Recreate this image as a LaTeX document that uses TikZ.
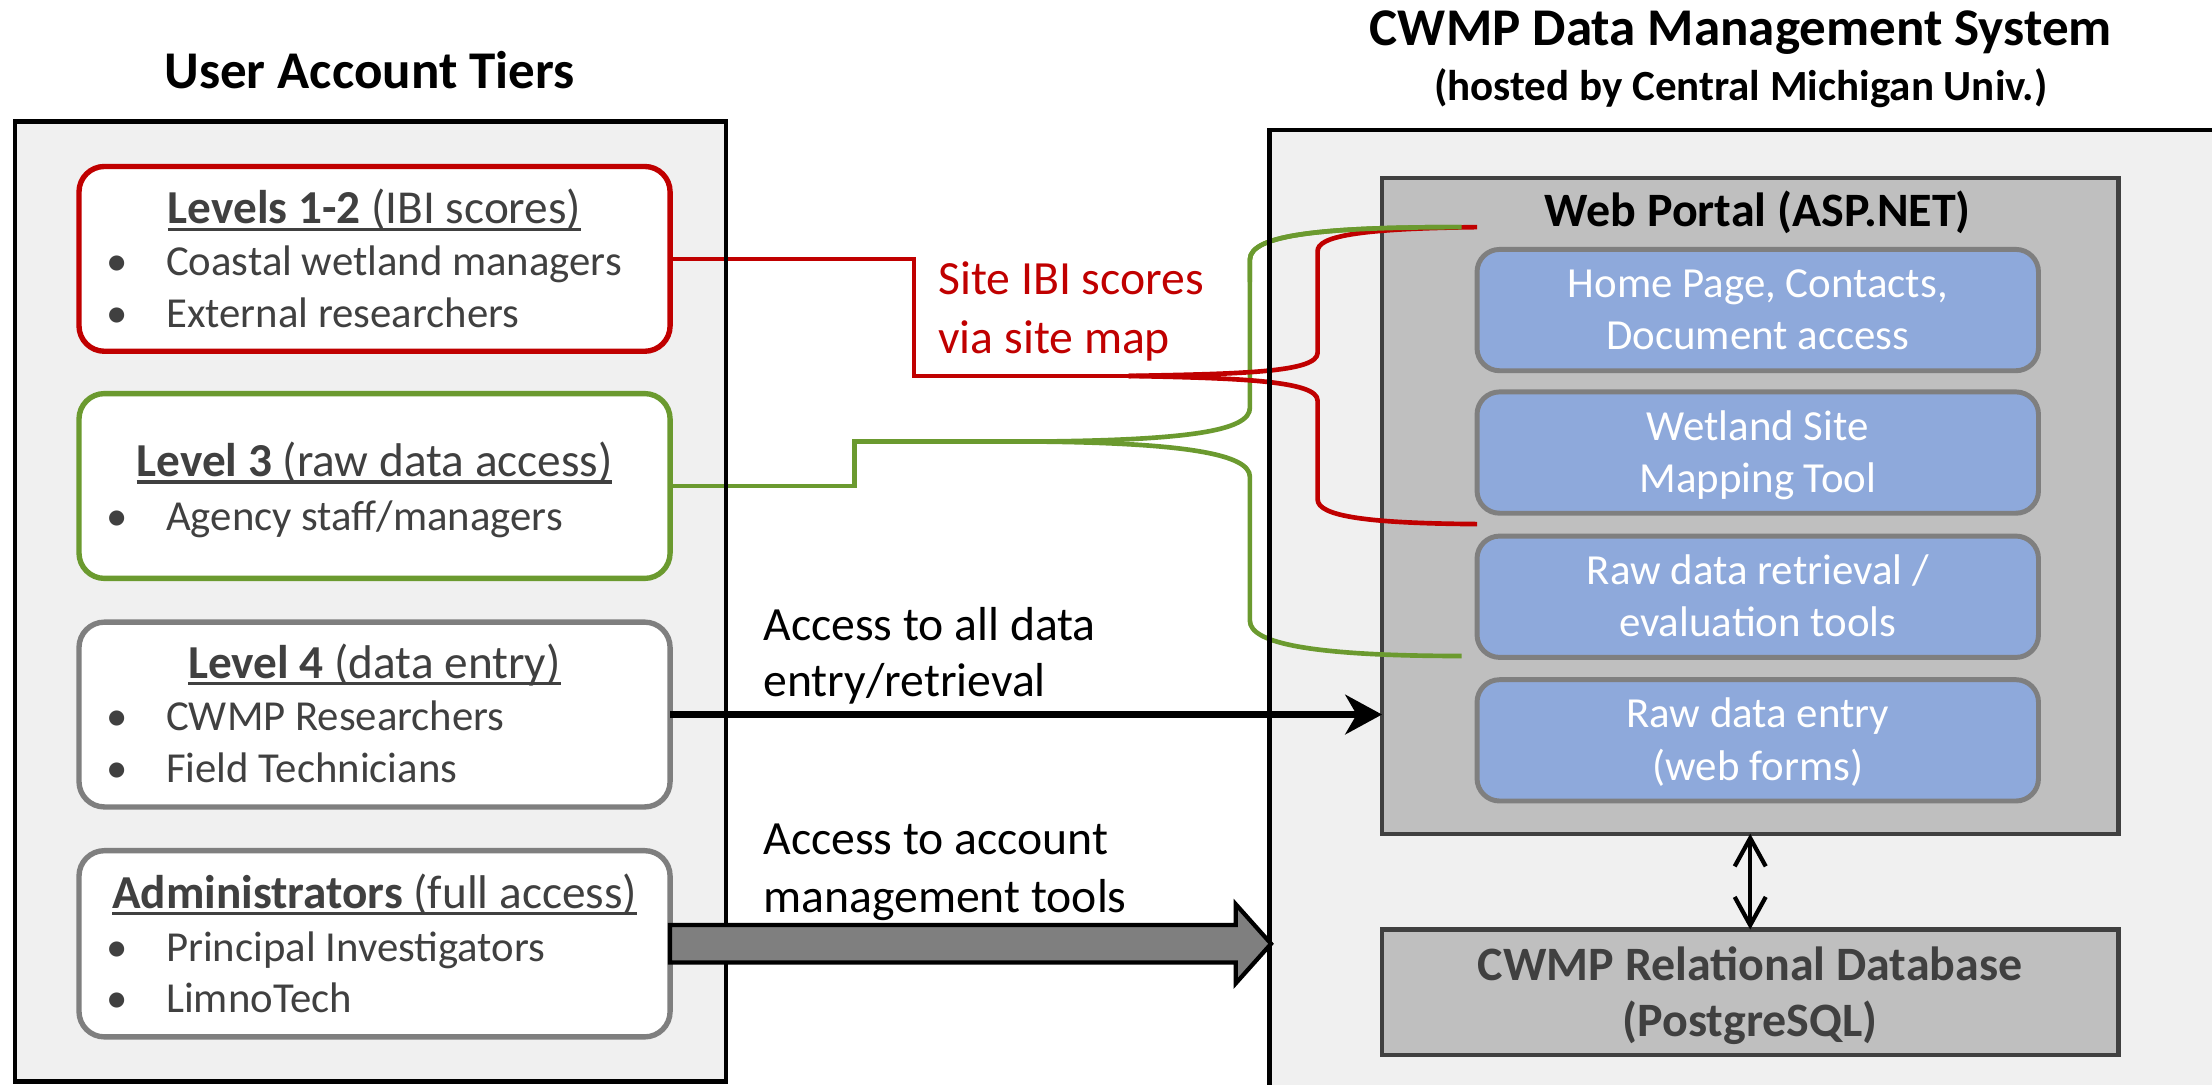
\documentclass[tikz,border=0pt]{standalone}
\usepackage{fontspec}
\setmainfont{Carlito}
\usetikzlibrary{arrows.meta}
\definecolor{cwred}{HTML}{C00000}
\definecolor{cwgreen}{HTML}{6B9A2F}
\definecolor{cwgray}{HTML}{7F7F7F}
\definecolor{cwdark}{HTML}{404040}
\definecolor{cwbg}{HTML}{F0F0F0}
\definecolor{cwmid}{HTML}{BFBFBF}
\definecolor{cwblue}{HTML}{8EA9DB}
\newsavebox\ulbx
\newcommand\ulhead[1]{\sbox\ulbx{#1}\rlap{\raisebox{-5pt}{\rule{\wd\ulbx}{2.2pt}}}\usebox\ulbx}
\newcommand\itm[1]{\makebox[42pt][l]{\textbullet}#1}
\begin{document}
\begin{tikzpicture}[x=1pt,y=1pt,
  outer/.style={draw=black, fill=cwbg, line width=3.2, inner sep=0, outer sep=0},
  tier/.style={draw, line width=3.8, rounded corners=18, fill=white, minimum width=419, inner sep=0, outer sep=0},
  hd/.style={font=\fontsize{33.5}{38}\selectfont, text=cwdark, anchor=base, inner sep=0},
  it/.style={font=\fontsize{30.3}{36}\selectfont, text=cwdark, anchor=base west, inner sep=0},
  ttl/.style={font=\fontsize{37.6}{42}\selectfont\bfseries, anchor=base, inner sep=0},
  portal/.style={draw=cwdark, fill=cwmid, line width=3, inner sep=0, outer sep=0, minimum width=522},
  bluebox/.style={draw=cwgray, fill=cwblue, line width=3.5, rounded corners=16, minimum width=398, minimum height=86, inner sep=0, outer sep=0},
  bt/.style={font=\fontsize{30.4}{36}\selectfont, text=white, anchor=base, inner sep=0},
  dbt/.style={font=\fontsize{34}{38}\selectfont\bfseries, text=cwdark, anchor=base, inner sep=0},
  lbl/.style={font=\fontsize{33.8}{38}\selectfont, anchor=base west, inner sep=0},
  redc/.style={draw=cwred, line width=3.3},
  greenc/.style={draw=cwgreen, line width=3.3},
  blk/.style={line width=5, -{Stealth[length=26, width=28, inset=8]}},
  dbl/.style={line width=3, {Straight Barb[length=20, width=22]}-{Straight Barb[length=20, width=22]}},
  blockarrow/.style={draw=black, fill=cwgray, line width=3, line join=miter}
]
\useasboundingbox (0,0) rectangle (1568,-769);
\clip (0,0) rectangle (1568,-769);

% outer panels
\node[outer, minimum width=504, minimum height=680.5] (lb) at (262.5,-426.25) {};
\node[outer, minimum width=690, minimum height=698] (rb) at (1245,-441) {};

% titles
\node[ttl] (t1) at (262,-63) {User Account Tiers};
\node[ttl] (t2) at (1234,-32) {CWMP Data Management System};
\node[ttl, font=\fontsize{30.5}{34}\selectfont\bfseries] (t3) at (1234,-71) {(hosted by Central Michigan Univ.)};

% tier boxes
\node[tier, draw=cwred, minimum height=131] (l12) at (265.5,-183.5) {};
\node[tier, draw=cwgreen, minimum height=131] (l3) at (265.5,-344.5) {};
\node[tier, draw=cwgray, minimum height=131] (l4) at (265.5,-506.5) {};
\node[tier, draw=cwgray, minimum height=132] (adm) at (265.5,-669) {};

\node[hd] (h12) at (265.5,-158.7) {\ulhead{\textbf{Levels 1-2} (IBI scores)}};
\node[it] (i12a) at (75.6,-195.3) {\itm{Coastal wetland managers}};
\node[it] (i12b) at (75.6,-231.9) {\itm{External researchers}};

\node[hd] (h3) at (265.5,-337.8) {\ulhead{\textbf{Level 3} (raw data access)}};
\node[it] (i3a) at (75.6,-375.7) {\itm{Agency staff/managers}};

\node[hd] (h4) at (265.5,-480.6) {\ulhead{\textbf{Level 4} (data entry)}};
\node[it] (i4a) at (75.6,-518) {\itm{CWMP Researchers}};
\node[it] (i4b) at (75.6,-554.4) {\itm{Field Technicians}};

\node[hd] (hadm) at (265.5,-643.8) {\ulhead{\textbf{Administrators} (full access)}};
\node[it] (iadma) at (75.6,-681.3) {\itm{Principal Investigators}};
\node[it] (iadmb) at (75.6,-717.6) {\itm{LimnoTech}};

% web portal
\node[portal, minimum height=465] (wp) at (1240.65,-358.5) {};
\node[dbt, text=black] (wpt) at (1246,-160.6) {Web Portal (ASP.NET)};
\node[bluebox] (b1) at (1246,-219.8) {};
\node[bluebox] (b2) at (1246,-320.8) {};
\node[bluebox] (b3) at (1246,-423) {};
\node[bluebox] (b4) at (1246,-524.8) {};
\node[bt] (b1a) at (1246,-211) {Home Page, Contacts,};
\node[bt] (b1b) at (1246,-248) {Document access};
\node[bt] (b2a) at (1246,-312) {Wetland Site};
\node[bt] (b2b) at (1246,-349) {Mapping Tool};
\node[bt] (b3a) at (1246,-414) {Raw data retrieval /};
\node[bt] (b3b) at (1246,-451) {evaluation tools};
\node[bt] (b4a) at (1246,-516) {Raw data entry};
\node[bt] (b4b) at (1246,-553) {(web forms)};

% database
\node[portal, minimum height=89] (db) at (1240.65,-703.4) {};
\node[dbt] (dba) at (1240.65,-695) {CWMP Relational Database};
\node[dbt] (dbb) at (1240.65,-735) {(PostgreSQL)};

% labels
\node[lbl, text=cwred] (rl1) at (665,-209) {Site IBI scores};
\node[lbl, text=cwred] (rl2) at (665,-250.5) {via site map};
\node[lbl] (al1) at (541,-454) {Access to all data};
\node[lbl] (al2) at (541,-494) {entry/retrieval};
\node[lbl] (al3) at (541,-606) {Access to account};
\node[lbl] (al4) at (541,-646.7) {management tools};

% connector coordinates
\coordinate (rt) at (800,-266.5);
\coordinate (rA) at (1047,-161);
\coordinate (rB) at (1047,-371.5);
\coordinate (gt) at (735,-313);
\coordinate (gA) at (1036,-161);
\coordinate (gB) at (1036,-465);

% green connector
\draw[greenc] (l3.east) -- (605.7,-344.5) -- (605.7,-313) -- (gt);
\draw[greenc] (gt) .. controls (845,-312) and (886,-305) .. (886,-289) -- (886,-184)
  .. controls (886,-166) and (940,-161) .. (gA);
\draw[greenc] (gt) .. controls (840,-314) and (886,-322) .. (886,-338) -- (886,-440)
  .. controls (886,-456) and (930,-465) .. (gB);
% red connector
\draw[redc] (l12.east) -- (648,-183.5) -- (648,-266.5) -- (rt);
\draw[redc] (rt) .. controls (880,-265) and (934,-264) .. (934,-250) -- (934,-178)
  .. controls (934,-168) and (960,-162) .. (rA);
\draw[redc] (rt) .. controls (880,-268) and (934,-270) .. (934,-284) -- (934,-354)
  .. controls (934,-366) and (970,-371) .. (rB);
% green top branch over red
\draw[greenc] (886,-200) -- (886,-184) .. controls (886,-166) and (940,-161) .. (gA);

% outer borders over the connectors
\draw[line width=3.2] (lb.north west) rectangle (lb.south east);
\draw[line width=3.2] (rb.north west) rectangle (rb.south east);

% arrows
\draw[blk] (l4.east) -- (l4.east -| wp.west);
\draw[blockarrow] ([yshift=13.3]adm.east) -- ++(401,0) -- ++(0,14.7) -- ++(25,-28)
  -- ++(-25,-28) -- ++(0,14.7) -- ++(-401,0) -- cycle;
\draw[dbl] (wp.south) -- (db.north);
\end{tikzpicture}
\end{document}
